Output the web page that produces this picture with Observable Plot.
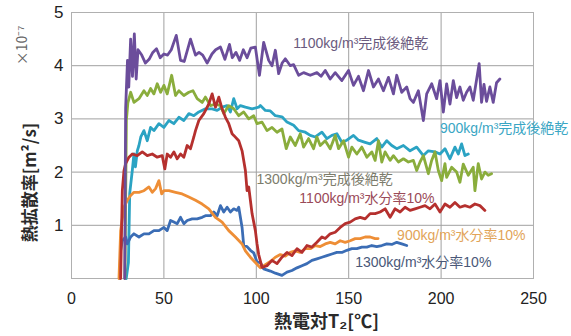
<!DOCTYPE html>
<html><head><meta charset="utf-8">
<script src="https://cdn.jsdelivr.net/npm/d3@7"></script>
<script src="https://cdn.jsdelivr.net/npm/@observablehq/plot@0.6"></script>
<style>
body{margin:0;background:#fff;}
#chart{position:relative;width:571px;height:336px;}
</style></head><body><div id="chart"></div>
<script>
const xTicks = [0, 50, 100, 150, 200, 250];
const yTicks = [1, 2, 3, 4, 5];

const seriesNames = ["900kg/m³完成後絶乾", "1300kg/m³完成後絶乾", "1300kg/m³水分率10%", "900kg/m³水分率10%", "1100kg/m³水分率10%", "1100kg/m³完成後絶乾"];
const seriesColors = ["#2ba3c3", "#8aad3c", "#3b6db5", "#ee8e36", "#b5302e", "#6b4d9b"];

const dry1100 = [[28.8,0],[29.3,3.2],[30.3,4.1],[31,3.6],[32,4.5],[33,3.8],[34,4.6],[35,3.75],[36,4.3],[38,4.2],[40,4.05],[42,4.12],[44,4.25],[46,4.32],[48,4.15],[50,4.22],[52,4.2],[54,4.3],[56.7,4.57],[59,4.1],[61,4.08],[64.4,4.5],[67.1,4.2],[69,4.25],[71,4.2],[73.4,4.05],[76,4.22],[78,4.3],[80.6,4.35],[83,4.12],[85.5,4.4],[87,4.15],[89,4.25],[91,4.1],[93,4.3],[95,4.15],[97,4.33],[99.5,4.35],[101.7,3.82],[104,4.44],[106.7,4.1],[108.5,4.0],[110.3,4.29],[112.1,3.85],[114,4.05],[115.7,4.13],[118.4,4.0],[120.2,4.02],[122.9,3.82],[125.6,3.87],[129.2,3.82],[132.8,3.87],[135,3.8],[137.3,3.91],[140,3.75],[142.7,3.87],[146.3,3.72],[149.9,3.91],[152.6,3.63],[155.3,3.8],[158,3.53],[160.7,3.91],[163.4,3.6],[166.1,3.75],[168.8,3.53],[171.5,3.78],[174.2,3.47],[176,3.82],[178.7,3.5],[181.4,3.6],[183.2,3.38],[185,3.31],[187.7,3.53],[190.4,2.97],[192.2,3.47],[194.9,3.66],[197.6,3.38],[199.4,3.72],[201.2,3.13],[203,3.66],[204.8,3.28],[206.6,3.72],[208.4,3.4],[210.2,3.6],[212,3.35],[213.8,3.5],[215.6,3.6],[217.4,3.35],[218.8,3.65],[220.6,4.04],[221.9,3.31],[223.2,3.65],[224.6,3.33],[226.4,3.6],[228.2,3.31],[230,3.68],[231.8,3.75]];

const dry1300 = [[28.9,0],[29.7,2.97],[30.5,3.3],[32,3.5],[33.8,3.31],[36.5,3.38],[39.2,3.53],[41,3.44],[42.8,3.57],[44.6,3.47],[46.4,3.66],[48.2,3.5],[50,3.63],[51.8,3.47],[54.2,3.82],[56.3,3.44],[58.1,3.53],[60.8,3.44],[63.5,3.5],[65.7,3.53],[68,3.38],[70.7,3.31],[72.5,3.41],[75.2,3.25],[77.9,3.28],[80.6,3.25],[82.4,3.1],[85.1,3.25],[87.8,3.19],[90.5,3.06],[93.2,3.13],[95.9,3.0],[98.6,3.06],[100.4,2.91],[103.1,2.94],[105.8,2.78],[108.5,2.84],[111.2,2.75],[113.9,2.81],[116.2,2.44],[118.4,2.66],[121.1,2.5],[123.8,2.72],[125.6,2.47],[128.3,2.63],[131,2.44],[132.8,2.66],[134.6,2.5],[137.3,2.59],[140,2.44],[142.7,2.69],[144.5,2.44],[147.2,2.59],[149.9,2.28],[151.7,2.47],[154.4,2.34],[157.1,2.47],[159.8,2.28],[162.5,2.38],[164.3,2.22],[166.1,2.59],[167.9,2.19],[169.7,2.38],[172.4,2.22],[174.2,2.31],[176.9,2.19],[179.6,2.25],[182.3,2.19],[185,2.22],[186.8,2.03],[188.6,2.19],[190.4,2.31],[193.1,1.97],[194.9,2.22],[196.7,2.38],[198.5,2.03],[200.3,1.84],[202.1,2.16],[203,1.9],[205.7,2.09],[208.4,2.0],[210.2,1.81],[212,2.15],[214.7,1.94],[217.4,2.09],[218.3,1.65],[220.1,2.16],[221.9,1.87],[223.7,2.0],[225.5,1.94],[227.3,1.97]];

const dry900 = [[29.6,0],[30.8,0.3],[31.5,1.6],[32.9,2.03],[33.8,2.34],[34.6,2.1],[35.6,2.4],[36.5,2.5],[37.5,2.66],[39.2,2.78],[41,2.59],[42.8,2.84],[44.6,2.78],[47.3,2.91],[50,2.84],[52.7,2.97],[55.4,2.91],[58.1,3.03],[60.8,2.97],[63.5,3.1],[66.2,3.06],[68.9,3.13],[72.5,3.19],[76.1,3.19],[78.8,3.16],[81.5,3.22],[84.2,3.25],[86,3.13],[87.8,3.38],[89.6,3.19],[91.4,3.25],[94.1,3.22],[97.7,3.19],[101.3,3.22],[102.2,3.25],[104.9,3.16],[107.6,3.15],[110.3,3.06],[113.9,3.04],[116.6,2.94],[120.2,2.88],[122.9,2.78],[126.5,2.75],[129.2,2.69],[131.9,2.66],[135.5,2.75],[138.2,2.63],[140.9,2.69],[143.6,2.72],[146.3,2.56],[149,2.6],[152.6,2.69],[155.3,2.6],[158.9,2.56],[161.6,2.53],[165.2,2.63],[167.9,2.47],[170.6,2.59],[173.3,2.5],[176,2.44],[179.6,2.5],[183.2,2.4],[186.8,2.47],[190.4,2.31],[193.1,2.4],[196.7,2.38],[199.4,2.34],[202.1,2.44],[204.8,2.25],[207.5,2.47],[209.3,2.34],[211.1,2.53],[212.9,2.31],[214.7,2.34]];

const wet1100 = [[26.6,0],[27.5,1.65],[28.4,2.03],[29.3,2.16],[31.1,2.28],[32.9,2.34],[35.6,2.31],[38.3,2.38],[41,2.31],[43.7,2.34],[46.4,2.28],[49.1,2.31],[50.5,2.06],[51.8,2.34],[53.6,2.28],[55.4,2.38],[57.2,2.25],[59,2.34],[60.8,2.28],[62.6,2.5],[64.4,2.44],[66.2,2.66],[67.1,2.78],[68.9,2.97],[71.6,3.1],[74.3,3.28],[76.1,3.47],[77.9,3.22],[79.7,3.41],[81.5,3.19],[83.3,3.03],[85.1,2.91],[86.9,2.72],[87.8,2.69],[90.5,2.59],[92.3,2.4],[94.1,2.03],[95,1.65],[95.9,1.72],[97.7,1.22],[99.5,0.9],[100.4,0.65],[101.3,0.45],[103.1,0.21],[105.8,0.24],[108.5,0.34],[111.2,0.28],[113.9,0.4],[116.6,0.49],[119.3,0.43],[122,0.56],[124.7,0.49],[127.4,0.62],[130.1,0.59],[132.8,0.68],[135.5,0.78],[137.3,0.75],[140,0.84],[142.7,0.87],[145.4,0.96],[148.1,1.03],[150.8,1.06],[153.5,1.12],[156.2,1.15],[158.9,1.12],[161.6,1.22],[164.3,1.22],[167,1.25],[169.7,1.31],[172.4,1.15],[175.1,1.31],[177.8,1.25],[180.5,1.34],[183.2,1.28],[185.9,1.31],[188.6,1.34],[191.3,1.37],[194,1.31],[196.7,1.4],[199.4,1.25],[202.1,1.4],[204.8,1.34],[207.5,1.43],[210.2,1.34],[212.9,1.37],[215.6,1.34],[218.3,1.4],[221,1.37],[223.7,1.28]];

const wet900 = [[25.7,0],[26.6,0.9],[28.4,1.34],[30.2,1.47],[32,1.56],[33.8,1.62],[36.5,1.62],[39.2,1.65],[41.9,1.72],[43.7,1.62],[45.5,1.69],[47.3,1.84],[48.8,1.59],[50,1.65],[52.7,1.65],[56.3,1.62],[59.9,1.59],[63.5,1.53],[67.1,1.47],[70.7,1.4],[74.3,1.31],[77.9,1.15],[81.5,1.06],[85.1,0.9],[88.7,0.78],[92.3,0.65],[94.1,0.52],[96.8,0.4],[99.5,0.3],[102.2,0.2],[104.9,0.26],[107.6,0.32],[110.3,0.4],[113,0.45],[115.7,0.42],[118.4,0.49],[121.1,0.52],[123.8,0.49],[126.5,0.56],[129.2,0.56],[131.9,0.62],[134.6,0.6],[137.3,0.65],[140,0.68],[142.7,0.65],[145.4,0.71],[148.1,0.68],[150.8,0.71],[153.5,0.75],[156.2,0.75],[158.9,0.78],[161.6,0.78],[164.3,0.75],[165.9,0.75]];

const wet1300 = [[26.1,0],[26.6,0.53],[27.5,0.71],[29.3,0.78],[30.2,0.65],[32,0.78],[33.8,0.84],[36.5,0.78],[39.2,0.84],[41.9,0.84],[44.6,0.9],[47.3,0.9],[50,0.96],[51.8,0.9],[53.6,1.09],[55.4,1.06],[57.2,1.03],[59,1.15],[60.8,1.03],[62.6,1.09],[65.3,1.12],[68,1.12],[70.7,1.15],[72.5,1.18],[75.2,1.18],[77,1.25],[78.8,1.18],[80.6,1.37],[82.4,1.25],[84.2,1.34],[86,1.25],[87.8,1.31],[89.6,1.28],[90.5,1.34],[92.3,0.96],[93.2,0.62],[95,0.6],[96.8,0.53],[98.6,0.48],[100.4,0.31],[102.2,0.3],[104,0.18],[107.6,0.14],[110.3,0.1],[113.9,0.06],[116.6,0.12],[119.3,0.15],[122,0.2],[124.7,0.24],[127.4,0.28],[130.1,0.34],[132.8,0.37],[135.5,0.4],[138.2,0.43],[140.9,0.46],[143.6,0.49],[146.3,0.49],[149,0.53],[151.7,0.56],[154.4,0.56],[157.1,0.59],[159.8,0.59],[162.5,0.62],[165.2,0.6],[167.9,0.62],[170.6,0.65],[173.3,0.64],[176,0.68],[178.7,0.65],[181.4,0.62]];

const seriesData = [dry900, dry1300, wet1300, wet900, wet1100, dry1100];

const labelText = ["1100kg/m³完成後絶乾", "900kg/m³完成後絶乾", "1300kg/m³完成後絶乾", "1100kg/m³水分率10%", "900kg/m³水分率10%", "1300kg/m³水分率10%"];
const labelX = [120, 199.4, 100.1, 123.3, 176.2, 153.5];
const labelY = [4.42, 2.82, 1.86, 1.5, 0.81, 0.3];
const labelColors = ["#6a5a7e", "#3aa6c4", "#7c7c6c", "#9a4a58", "#e2a458", "#4a5878"];

const rows = [];
seriesData.forEach((s, i) => s.forEach(([x, y]) => rows.push({x, y, k: seriesNames[i]})));

const labels = labelText.map((t, i) => ({t, x: labelX[i], y: labelY[i], c: labelColors[i]}));

const cjk = "'Noto Sans CJK JP', sans-serif";
const mixed = "'Liberation Sans', 'Noto Sans CJK JP', sans-serif";
const chart = Plot.plot({
  width: 571, height: 336,
  marginLeft: 71, marginRight: 38, marginTop: 12, marginBottom: 58,
  style: {fontFamily: mixed, background: "#fff", color: "#222"},
  x: {domain: [0, 250], label: null},
  y: {domain: [0, 5], label: null},
  color: {domain: seriesNames, range: seriesColors},
  marks: [
    Plot.gridX(xTicks.slice(1, -1), {stroke: "#a0a0a0", strokeOpacity: 1}),
    Plot.gridY(yTicks.slice(0, -1), {stroke: "#a0a0a0", strokeOpacity: 1}),
    Plot.frame({stroke: "#b0b0b0"}),
    Plot.axisX(xTicks, {tickSize: 0, tickPadding: 14, fontSize: 16, label: null, tickFormat: d => String(d)}),
    Plot.axisY(yTicks, {tickSize: 0, tickPadding: 8, fontSize: 17, label: null, tickFormat: d => String(d)}),
    Plot.line(rows, {x: "x", y: "y", z: "k", stroke: "k", strokeWidth: 2.8, strokeLinejoin: "round", strokeLinecap: "round"}),
    ...labels.map(l => Plot.text([l], {x: "x", y: "y", text: "t", fill: l.c, textAnchor: "start", fontSize: 14, fontFamily: mixed})),
    Plot.text(["熱拡散率[m²/s]"], {frameAnchor: "left", text: d => d, rotate: -90, textAnchor: "middle", dx: -41, dy: 37, fontSize: 17, fontWeight: "bold", fontFamily: cjk, fill: "#2a2a2a"}),
    Plot.text(["×10⁻⁷"], {frameAnchor: "top-left", text: d => d, rotate: -90, textAnchor: "middle", dx: -54, dy: 33, fontSize: 14, fontFamily: cjk, fill: "#666"}),
    Plot.text(["熱電対T₂[℃]"], {frameAnchor: "bottom", text: d => d, textAnchor: "middle", dx: 24, dy: 49, fontSize: 18, fontWeight: "bold", fontFamily: cjk, fill: "#2a2a2a"})
  ]
});
document.getElementById("chart").appendChild(chart);
</script>
</body></html>
